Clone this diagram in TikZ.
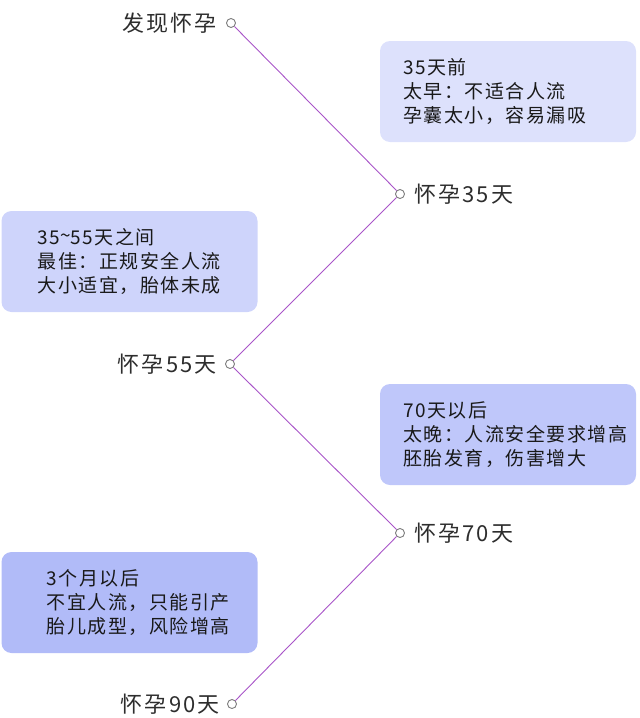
\documentclass[tikz,border=0pt]{standalone}
\usepackage{fontspec}
\setmainfont{Noto Sans CJK SC}[LetterSpace=8]
\newfontfamily\stagefont{Noto Sans CJK SC}[LetterSpace=10]
\usetikzlibrary{positioning}

\definecolor{boxa}{RGB}{221,225,252}
\definecolor{boxb}{RGB}{206,212,251}
\definecolor{boxc}{RGB}{191,199,250}
\definecolor{boxd}{RGB}{177,187,248}
\definecolor{linkpurple}{RGB}{168,84,200}
\definecolor{dotgray}{RGB}{125,125,125}
\definecolor{labeltext}{RGB}{45,45,45}
\definecolor{notetext}{RGB}{25,25,25}

\tikzset{
  dot/.style={circle, draw=dotgray, fill=white, line width=0.9pt,
    inner sep=0pt, minimum size=9pt},
  stage/.style={font=\stagefont\fontsize{22}{26}\selectfont, text=labeltext, inner sep=0pt},
  infobox/.style={rounded corners=10pt, minimum width=256pt,
    minimum height=101pt, inner sep=0pt},
  notetext/.style={font=\fontsize{19}{24}\selectfont, text=notetext,
    align=left, inner sep=0pt, anchor=west},
  link/.style={draw=linkpurple, line width=0.9pt}
}

\begin{document}
\begin{tikzpicture}[x=1pt, y=-1pt]
  \useasboundingbox (0,0) rectangle (640,718);

  % timeline points
  \node[dot] (found) at (231,23) {};
  \node[dot] (d35) at (400,194) {};
  \node[dot] (d55) at (230,364) {};
  \node[dot] (d70) at (400,533) {};
  \node[dot] (d90) at (232,704) {};

  \node[stage, left=9pt of found] (foundlabel) {发现怀孕};
  \node[stage, right=9pt of d35] (d35label) {怀孕35天};
  \node[stage, left=8pt of d55] (d55label) {怀孕55天};
  \node[stage, right=9pt of d70] (d70label) {怀孕70天};
  \node[stage, left=7pt of d90] (d90label) {怀孕90天};

  \draw[link] (found) -- (d35);
  \draw[link] (d35) -- (d55);
  \draw[link] (d55) -- (d70);
  \draw[link] (d70) -- (d90);

  % notes
  \node[infobox, fill=boxa] (early) at (508,91.5) {};
  \node[notetext, right=23pt of early.west] (earlytext)
    {35天前\\太早：不适合人流\\孕囊太小，容易漏吸};

  \node[infobox, fill=boxb] (best) at (129.5,261.5) {};
  \node[notetext, right=36pt of best.west] (besttext)
    {35\raisebox{0.15ex}{\textasciitilde}55天之间\\最佳：正规安全人流\\大小适宜，胎体未成};

  \node[infobox, fill=boxc] (late) at (508,434.5) {};
  \node[notetext, right=23pt of late.west] (latetext)
    {70天以后\\太晚：人流安全要求增高\\胚胎发育，伤害增大};

  \node[infobox, fill=boxd] (month) at (129.5,602.5) {};
  \node[notetext, right=45pt of month.west] (monthtext)
    {3个月以后\\不宜人流，只能引产\\胎儿成型，风险增高};
\end{tikzpicture}
\end{document}
